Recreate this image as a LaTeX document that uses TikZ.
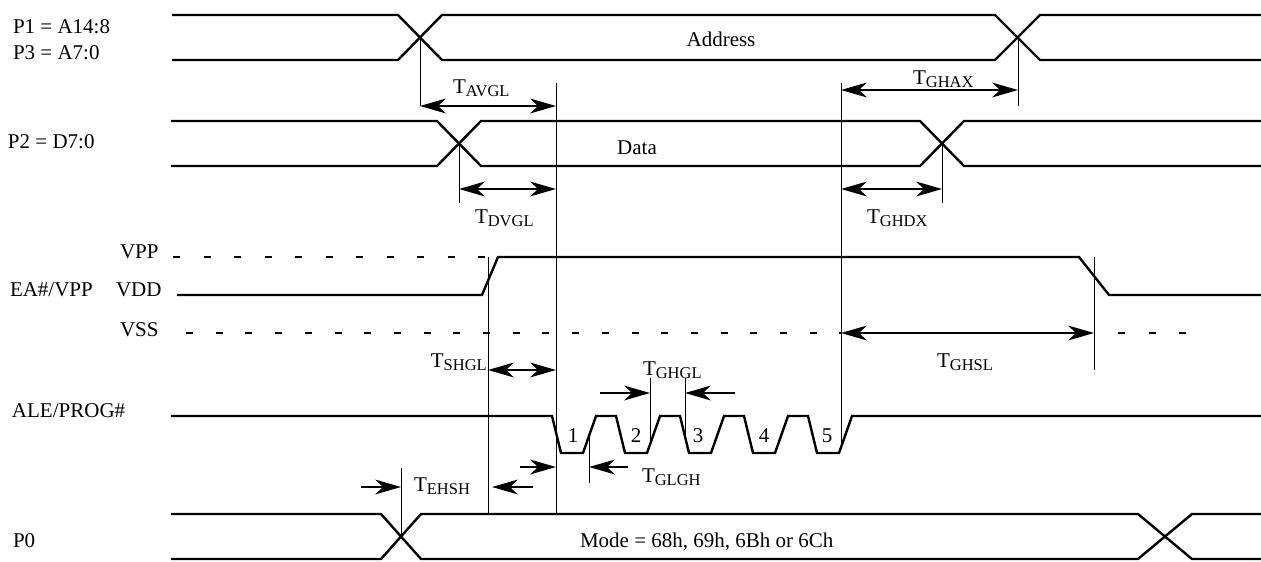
\documentclass[tikz,border=0pt]{standalone}
\usepackage{fontspec}
\setmainfont{Liberation Serif}
\usetikzlibrary{arrows.meta}
\newcommand{\Tsub}[1]{T\raisebox{-3.5pt}{\fontsize{16.5}{18}\selectfont #1}}
\tikzset{
  sig/.style={line width=2.4pt, line join=miter},
  thinline/.style={line width=0.9pt},
  dashline/.style={line width=2.4pt, dash pattern=on 7pt off 23.5pt},
  dashlineb/.style={line width=2.4pt, dash pattern=on 7pt off 22.7pt},
  bighead/.tip={Stealth[length=26pt,width=15pt,inset=8pt,line width=0pt]},
  dimline/.style={line width=2.5pt, bighead-bighead},
  oneline/.style={line width=2.5pt, -bighead},
  lbl/.style={anchor=base west, inner sep=0pt, outer sep=0pt},
  every node/.style={font=\fontsize{21}{25}\selectfont, inner sep=0pt}
}
\begin{document}
\begin{tikzpicture}[x=1pt,y=-1pt]
\useasboundingbox (0,0) rectangle (1261,562);
% ---------- signal names ----------
\node[lbl] (n1) at (13,33) {P1 = A14:8};
\node[lbl] (n3) at (13,59) {P3 = A7:0};
\node[lbl] (n2) at (8,148) {P2 = D7:0};
\node[lbl] (nea) at (10,296) {EA\#/VPP};
\node[lbl] (nvpp) at (120,258) {VPP};
\node[lbl] (nvdd) at (116,296) {VDD};
\node[lbl] (nvss) at (120,336) {VSS};
\node[lbl] (nale) at (12,417) {ALE/PROG\#};
\node[lbl] (np0) at (13,547) {P0};
% ---------- address bus ----------
\draw[sig] (172,15) -- (398,15) -- (442,60) -- (995,60) -- (1040,15) -- (1261,15);
\draw[sig] (172,60) -- (398,60) -- (442,15) -- (995,15) -- (1040,60) -- (1261,60);
\node[anchor=base] (addr) at (721,46) {Address};
% ---------- data bus ----------
\draw[sig] (171,121) -- (437,121) -- (481,166) -- (920,166) -- (964,121) -- (1261,121);
\draw[sig] (171,166) -- (437,166) -- (481,121) -- (920,121) -- (964,166) -- (1261,166);
\node[anchor=base] (data) at (637,154) {Data};
% ---------- EA#/VPP ----------
\draw[dashline] (173,257) -- (488,257);
\draw[sig] (177,295) -- (482,295) -- (498,257) -- (1079,257) -- (1109,295) -- (1261,295);
\draw[dashlineb] (186,333) -- (841,333);
\draw[dashline] (1118,333) -- (1190,333);
% ---------- ALE/PROG# ----------
\draw[sig] (171,416) -- (552,416)
  \foreach \s in {552,616,680,744,808}{ -- (\s,416) -- (\s+9,453) -- (\s+31,453) -- (\s+44,416)}
  -- (1261,416);
\foreach \x/\n in {573/1,636/2,698/3,764/4,827/5}{\node[anchor=base] (p\n) at (\x,442) {\n};}
% ---------- P0 ----------
\draw[sig] (171,514) -- (381,514) -- (421,559) -- (1138,559) -- (1192,514) -- (1261,514);
\draw[sig] (171,559) -- (381,559) -- (421,514) -- (1138,514) -- (1192,559) -- (1261,559);
\node[lbl] (mode) at (580,547) {Mode = 68h, 69h, 6Bh or 6Ch};
% ---------- reference lines ----------
\coordinate (xA) at (420,37.5);  \coordinate (xAb) at (420,106);
\coordinate (xA2) at (1018,37.5); \coordinate (xA2b) at (1018,106);
\coordinate (xD) at (459,143.5); \coordinate (xDb) at (459,203);
\coordinate (xD2) at (942,143.5); \coordinate (xD2b) at (942,203);
\coordinate (g1t) at (556,83); \coordinate (g1b) at (556,514);
\coordinate (g5t) at (841,83); \coordinate (g5b) at (841,446);
\coordinate (sh) at (488,257); \coordinate (shb) at (488,514);
\coordinate (fl) at (1094,257); \coordinate (flb) at (1094,370);
\coordinate (r2t) at (650,378); \coordinate (r2b) at (650,444);
\coordinate (f3t) at (685,378); \coordinate (f3b) at (685,436);
\coordinate (r1t) at (589,437); \coordinate (r1b) at (589,483);
\coordinate (p0t) at (401,468); \coordinate (p0x) at (401,536.5);
\foreach \a/\b in {xA/xAb,xA2/xA2b,xD/xDb,xD2/xD2b,g1t/g1b,g5t/g5b,sh/shb,fl/flb,r2t/r2b,f3t/f3b,r1t/r1b,p0t/p0x}
  {\draw[thinline] (\a) -- (\b);}
% ---------- timing arrows ----------
\draw[dimline] (420,106) -- (556,106);
\node[lbl] (tavgl) at (453,93) {\Tsub{AVGL}};
\draw[dimline] (841,90) -- (1018,90);
\node[lbl] (tghax) at (913,84) {\Tsub{GHAX}};
\draw[dimline] (459,189) -- (556,189);
\node[lbl] (tdvgl) at (475,223) {\Tsub{DVGL}};
\draw[dimline] (841,189) -- (942,189);
\node[lbl] (tghdx) at (867,223) {\Tsub{GHDX}};
\draw[dimline] (841,333) -- (1094,333);
\node[lbl] (tghsl) at (937,367) {\Tsub{GHSL}};
\draw[dimline] (488,370) -- (556,370);
\node[anchor=base east] (tshgl) at (487,367) {\Tsub{SHGL}};
\draw[oneline] (600,393) -- (650,393);
\draw[oneline] (735,393) -- (685,393);
\node[lbl] (tghgl) at (643,375) {\Tsub{GHGL}};
\draw[oneline] (520,467) -- (556,467);
\draw[oneline] (628,467) -- (589,467);
\node[lbl] (tglgh) at (642,482) {\Tsub{GLGH}};
\draw[oneline] (361,487) -- (401,487);
\draw[oneline] (533,487) -- (492,487);
\node[lbl] (tehsh) at (414,491) {\Tsub{EHSH}};
\end{tikzpicture}
\end{document}
